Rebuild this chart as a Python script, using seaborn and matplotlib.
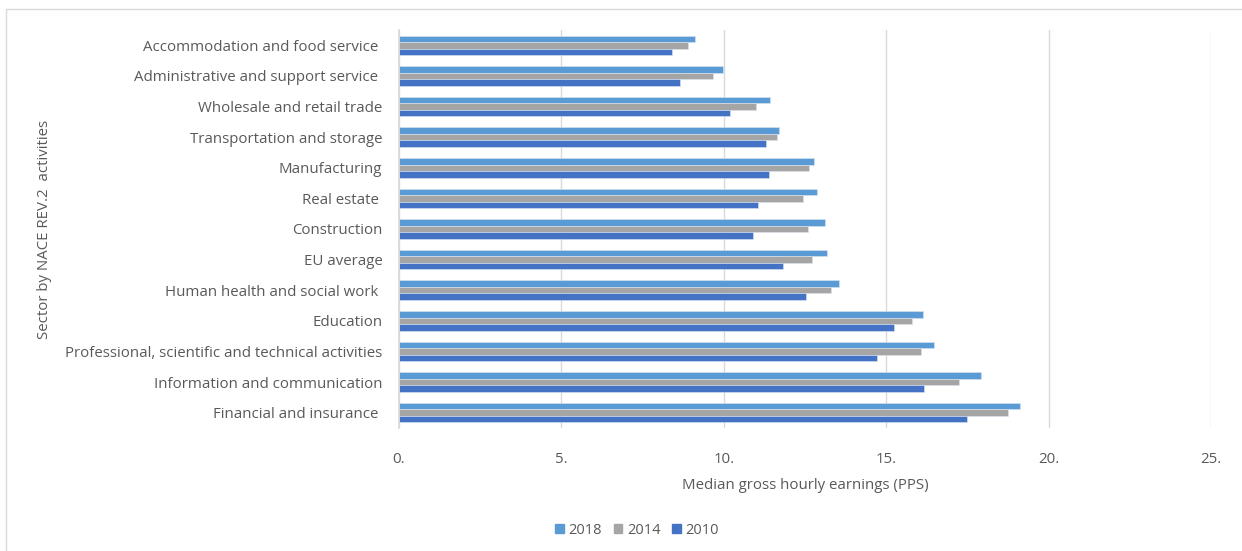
"""Median gross hourly earnings by NACE sector, grouped horizontal bars."""

import matplotlib.pyplot as plt
import matplotlib.ticker as mticker
import pandas as pd
import seaborn as sns
from matplotlib.patches import Rectangle

SECTORS = [
    "Accommodation and food service ",
    "Administrative and support service ",
    "Wholesale and retail trade",
    "Transportation and storage",
    "Manufacturing",
    "Real estate ",
    "Construction",
    "EU average",
    "Human health and social work ",
    "Education",
    "Professional, scientific and technical activities",
    "Information and communication",
    "Financial and insurance ",
]
EARN_2018 = [9.10, 9.97, 11.42, 11.70, 12.78, 12.87, 13.12, 13.19, 13.56, 16.14, 16.46, 17.92, 19.12]
EARN_2014 = [8.90, 9.68, 10.98, 11.65, 12.63, 12.45, 12.59, 12.71, 13.31, 15.78, 16.06, 17.25, 18.75]
EARN_2010 = [8.41, 8.64, 10.19, 11.30, 11.39, 11.04, 10.91, 11.82, 12.52, 15.23, 14.72, 16.16, 17.48]
YEARS = ["2018", "2014", "2010"]
COLORS = ["#5B9BD5", "#A5A5A5", "#4472C4"]

TEXT = "#595959"

sns.set_theme(style="white")
plt.rcParams["font.family"] = ["Open Sans", "DejaVu Sans"]

frames = []
for year, vals in zip(YEARS, [EARN_2018, EARN_2014, EARN_2010]):
    frames.append(pd.DataFrame({"sector": SECTORS, "year": year, "value": vals}))
df = pd.concat(frames, ignore_index=True)

fig = plt.figure(figsize=(12.42, 5.51), dpi=100)
ax = fig.add_axes([399 / 1242, 1 - 428 / 551, (1211 - 399) / 1242, (428 - 30) / 551])

sns.barplot(
    data=df,
    x="value",
    y="sector",
    hue="year",
    hue_order=YEARS,
    palette=COLORS,
    orient="h",
    width=0.64,
    edgecolor="#DCE6F2",
    linewidth=0.4,
    saturation=1,
    legend=False,
    ax=ax,
)

ax.set_xlim(0, 25)
ax.set_ylim(12.5, -0.5)
ax.xaxis.set_major_locator(mticker.MultipleLocator(5))
ax.xaxis.set_major_formatter(mticker.FuncFormatter(lambda v, _: f"{v:.0f}."))
ax.grid(axis="x", color="#D9D9D9", linewidth=1)
ax.set_axisbelow(True)
for side in ["top", "right", "bottom"]:
    ax.spines[side].set_visible(False)
ax.spines["left"].set_color("#D9D9D9")
ax.tick_params(axis="both", colors=TEXT, labelsize=10.8, length=0)
ax.tick_params(axis="x", pad=17)
ax.tick_params(axis="y", pad=12)
for lbl in ax.get_xticklabels() + ax.get_yticklabels():
    lbl.set_color(TEXT)

ax.set_xlabel("Median gross hourly earnings (PPS)", fontsize=10.8, color=TEXT, labelpad=8)
ax.set_ylabel("")
fig.text(45 / 1242, 1 - 229 / 551, "Sector by NACE REV.2  activities", rotation=90,
         ha="center", va="center", fontsize=10.8, color=TEXT)

handles = [Rectangle((0, 0), 1, 1, color=c) for c in COLORS]
fig.legend(handles, YEARS, loc="center", bbox_to_anchor=(637 / 1242, 1 - 530 / 551),
           ncol=3, frameon=False, fontsize=10.5, labelcolor=TEXT, handlelength=0.6,
           handleheight=0.6, handletextpad=0.3, columnspacing=0.8)

fig.patches.append(Rectangle((6 / 1242, -0.01), 1.0, 1 - 9 / 551 + 0.01, transform=fig.transFigure,
                             fill=False, edgecolor="#D9D9D9", linewidth=1))

fig.savefig("out.png", dpi=100)
